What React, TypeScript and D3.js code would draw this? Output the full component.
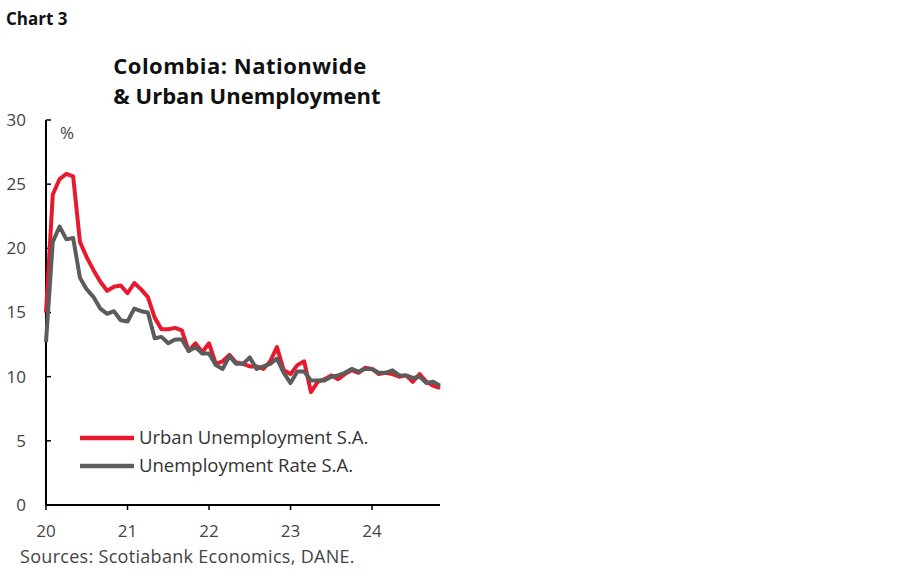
import React from "react";
import * as d3 from "d3";

const xTickLabels = ["20", "21", "22", "23", "24"];
const yTicks = [0, 5, 10, 15, 20, 25, 30];

// Monthly, Jan 2020 .. Nov 2024
const urban = [
  15.0, 24.2, 25.4, 25.8, 25.6, 20.5, 19.3, 18.3, 17.4, 16.7, 17.0, 17.1,
  16.5, 17.3, 16.8, 16.2, 14.6, 13.7, 13.7, 13.8, 13.6, 12.0, 12.6, 11.9,
  12.6, 11.0, 11.2, 11.7, 11.1, 11.0, 10.8, 10.8, 10.6, 11.2, 12.3, 10.5,
  10.2, 10.9, 11.2, 8.8, 9.6, 9.8, 10.1, 9.8, 10.2, 10.5, 10.3, 10.7,
  10.6, 10.2, 10.3, 10.2, 10.0, 10.1, 9.6, 10.2, 9.6, 9.3, 9.1,
];
const nationwide = [
  12.7, 20.5, 21.7, 20.7, 20.8, 17.7, 16.8, 16.2, 15.3, 14.9, 15.1, 14.4,
  14.3, 15.3, 15.1, 15.0, 13.0, 13.1, 12.6, 12.9, 12.9, 12.0, 12.3, 11.8,
  11.8, 10.9, 10.6, 11.6, 11.0, 11.0, 11.5, 10.6, 10.8, 11.0, 11.4, 10.3,
  9.5, 10.4, 10.4, 9.7, 9.7, 9.7, 10.0, 10.1, 10.3, 10.6, 10.4, 10.6,
  10.6, 10.3, 10.3, 10.5, 10.1, 10.1, 9.9, 10.0, 9.5, 9.6, 9.3,
];
const seriesNames = ["Urban Unemployment S.A.", "Unemployment Rate S.A."];
const seriesColors = ["#e8192c", "#5c5c5c"];

const W = 900;
const H = 579;
const FONT = "'Open Sans', sans-serif";

export default function App() {
  const x = d3.scaleLinear().domain([0, 58]).range([46, 440]);
  const monthsPerYear = 12;
  const y = d3.scaleLinear().domain([0, 30]).range([505, 120]);
  const line = d3
    .line<number>()
    .x((_, i) => x(i))
    .y((d) => y(d));
  const data = [urban, nationwide];
  const x0 = x(0);
  const x1 = x.range()[1];
  const y0 = y(0);

  return (
    <svg
      width={W}
      height={H}
      style={{ position: "absolute", left: 0, top: 0, background: "#fff" }}
      fontFamily={FONT}
    >
      <text x={6} y={25} fontSize={17} fontWeight={700} fill="#111">
        Chart 3
      </text>
      <text
        x={240}
        y={74}
        fontSize={22}
        fontWeight={700}
        letterSpacing={0.5}
        textAnchor="middle"
        fill="#111"
      >
        Colombia: Nationwide
      </text>
      <text x={247} y={104} fontSize={22} fontWeight={700} textAnchor="middle" fill="#111">
        &amp; Urban Unemployment
      </text>

      {/* y axis */}
      <line x1={x0} x2={x0} y1={y(30)} y2={y0} stroke="#000" strokeWidth={2} />
      {yTicks.map((t) => (
        <g key={t}>
          <line x1={x0} x2={x0 + 5} y1={y(t)} y2={y(t)} stroke="#000" strokeWidth={1.5} />
          <text x={26} y={y(t)} dy="0.35em" fontSize={17} textAnchor="end" fill="#444">
            {t}
          </text>
        </g>
      ))}
      <text x={60} y={139} fontSize={17} fill="#444">
        %
      </text>

      {/* x axis */}
      <line x1={x0} x2={x1} y1={y0} y2={y0} stroke="#000" strokeWidth={2} />
      {xTickLabels.map((lbl, k) => {
        const px = x(k * monthsPerYear);
        return (
          <g key={lbl}>
            <line x1={px} x2={px} y1={y0} y2={y0 + 5} stroke="#000" strokeWidth={1.5} />
            <text x={px} y={537} fontSize={17} textAnchor="middle" fill="#444">
              {lbl}
            </text>
          </g>
        );
      })}

      {/* lines */}
      {data.map((s, k) => (
        <path
          key={k}
          d={line(s) || ""}
          fill="none"
          stroke={seriesColors[k]}
          strokeWidth={4}
          strokeLinejoin="round"
        />
      ))}

      {/* legend */}
      {seriesNames.map((n, k) => (
        <g key={n} transform={`translate(0, ${438 + k * 28})`}>
          <line x1={80} x2={134} y1={0} y2={0} stroke={seriesColors[k]} strokeWidth={4.5} />
          <text x={139} y={0} dy="0.35em" fontSize={18.5} fill="#333">
            {n}
          </text>
        </g>
      ))}

      <text x={20} y={563} fontSize={18} letterSpacing={0.3} fill="#444">
        Sources: Scotiabank Economics, DANE.
      </text>
    </svg>
  );
}
